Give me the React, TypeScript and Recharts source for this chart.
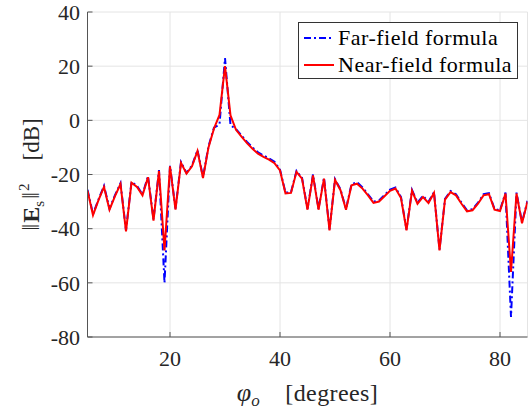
import React from 'react'
import {
  LineChart,
  Line,
  XAxis,
  YAxis,
  CartesianGrid,
  Legend,
} from 'recharts'

// Observation angle (degrees)
const phiDeg = [
  5, 6, 7, 8, 9, 10, 11, 12, 13, 14, 15, 16, 17, 18, 19, 20, 21, 22, 23, 24,
  25, 26, 27, 28, 29, 30, 31, 32, 33, 34, 35, 36, 37, 38, 39, 40, 41, 42, 43, 44,
  45, 46, 47, 48, 49, 50, 51, 52, 53, 54, 55, 56, 57, 58, 59, 60, 61, 62, 63, 64,
  65, 66, 67, 68, 69, 70, 71, 72, 73, 74, 75, 76, 77, 78, 79, 80, 81, 82, 83, 84,
  85,
]

// Near-field formula, |Es|^2 in dB
const nearField = [
  -26, -35, -29.5, -24.6, -33, -28, -23.5, -41, -23, -24.6, -27.7, -21, -37, -18.7, -48, -17, -33, -15.7, -19.7, -17,
  -11.3, -21.3, -10, -3, 2, 20, 1.8, -3.5, -6, -8.4, -10.5, -12.3, -13.5, -14.5, -15.8, -18.5, -27, -26.8, -19, -21.5,
  -33, -20.3, -33, -21.5, -40.6, -22, -25.8, -33, -24, -23.4, -25.2, -27.7, -30.5, -30, -28, -26, -25.2, -28.7, -40.6, -26,
  -30.8, -28.3, -30.5, -26.8, -48, -29.3, -26.5, -27.7, -30.8, -33.6, -33.2, -30.8, -27.7, -27.3, -33, -33.5, -27, -56, -27, -38,
  -30,
]

// Far-field formula, |Es|^2 in dB
const farField = [
  -25.6, -34.6, -29.2, -24.2, -32.6, -27.6, -23.2, -40.6, -22.7, -24.2, -27.3, -20.6, -36.6, -18.4, -60, -16.8, -32.6, -15.4, -19.4, -16.7,
  -11, -21, -9.6, -2.7, -1.5, 23, -1.8, -3.2, -5.6, -8, -10, -11.8, -13, -14, -15.3, -18.2, -26.7, -26.5, -18.7, -21.2,
  -32.7, -20, -32.7, -21.2, -40.3, -21.7, -25.5, -32.7, -23.6, -22.8, -24.8, -27.3, -30, -29.6, -27.6, -25.6, -24.8, -28.3, -40.3, -25.7,
  -30.4, -27.9, -30.1, -26.5, -47.7, -29, -26.1, -27.3, -30.4, -33.2, -32.8, -30.4, -27.3, -26.9, -32.7, -33.2, -26.7, -72.6, -26.7, -37.7,
  -29.7,
]

const xTicks = [20, 40, 60, 80]
const yTicks = [-80, -60, -40, -20, 0, 20, 40]

const seriesInfo = [
  { key: 'far', name: 'Far-field formula', color: '#0000ff', dash: '7 3 2 3' },
  { key: 'near', name: 'Near-field formula', color: '#ff0000', dash: undefined },
]

const data = phiDeg.map((phi, i) => ({ phi, far: farField[i], near: nearField[i] }))

const FONT = '"Liberation Serif", "DejaVu Serif", serif'
const TEXT = '#262626'
const AXIS = '#555555'
const GRID = '#e4e4e4'

const textStyle = { fontFamily: FONT }

function XTick(props: any) {
  const { x, y, payload } = props
  return (
    <text x={x} y={y} dy="0.71em" textAnchor="middle" fontFamily={FONT} style={textStyle} fontSize={22} fill={TEXT}>
      {payload.value}
    </text>
  )
}

function YTick(props: any) {
  const { x, y, payload } = props
  return (
    <text x={x} y={y} dy="0.35em" textAnchor="end" fontFamily={FONT} style={textStyle} fontSize={22} fill={TEXT}>
      {payload.value}
    </text>
  )
}

function XLabel(props: any) {
  const vb = props.viewBox || {}
  const cx = vb.x + vb.width / 2
  const y = vb.y + 64
  return (
    <text x={cx} y={y} textAnchor="middle" style={textStyle} fontSize={24} fill={TEXT}>
      <tspan fontStyle="italic" fontSize={26}>φ</tspan>
      <tspan fontStyle="italic" fontSize={17} dy={5}>o</tspan>
      <tspan dy={-5} letterSpacing={0.4}>{'\u00a0\u00a0\u00a0\u00a0[degrees]'}</tspan>
    </text>
  )
}

function YLabel(props: any) {
  const vb = props.viewBox || {}
  const cx = 39
  const cy = vb.y + vb.height / 2
  return (
    <text
      x={cx}
      y={cy}
      textAnchor="middle"
      style={textStyle}
      fontSize={23}
      fill={TEXT}
      transform={`rotate(-90 ${cx} ${cy})`}
    >
      <tspan fontSize={25}>‖</tspan>
      <tspan fontWeight="bold" fontSize={24} dx={1}>E</tspan>
      <tspan fontSize={15} dy={5}>s</tspan>
      <tspan fontSize={25} dy={-5} dx={2}>‖</tspan>
      <tspan fontSize={15} dy={-10} dx={1}>2</tspan>
      <tspan dy={10}>{'\u00a0\u00a0\u00a0\u00a0[dB]'}</tspan>
    </text>
  )
}

function LegendBox() {
  return (
    <div
      style={{
        border: '1px solid #333',
        background: '#fff',
        width: 220,
        height: 57,
        boxSizing: 'border-box',
        padding: '1px 0 0 4px',
        fontFamily: FONT,
        fontSize: 22,
        letterSpacing: 0.5,
        color: '#000',
      }}
    >
      {seriesInfo.map((s) => (
        <div key={s.key} style={{ display: 'flex', alignItems: 'center', height: 27 }}>
          <svg width={32} height={10} style={{ marginRight: 3 }}>
            <line
              x1={1}
              y1={5}
              x2={31}
              y2={5}
              stroke={s.color}
              strokeWidth={2}
              strokeDasharray={s.dash}
            />
          </svg>
          <span style={{ whiteSpace: 'nowrap' }}>{s.name}</span>
        </div>
      ))}
    </div>
  )
}

export default function App() {
  return (
    <div style={{ position: 'absolute', left: 0, top: 0, background: '#fff' }}>
      <LineChart
        width={529}
        height={411}
        data={data}
        margin={{ top: 12, right: 1.5, bottom: 0, left: 0 }}
      >
        <CartesianGrid stroke={GRID} strokeWidth={1} />
        <XAxis
          dataKey="phi"
          type="number"
          domain={[5, 85]}
          ticks={xTicks}
          allowDataOverflow
          height={74}
          tickSize={-5}
          tickMargin={18}
          tickLine={{ stroke: AXIS }}
          axisLine={{ stroke: AXIS }}
          tick={XTick}
          label={XLabel}
        />
        <XAxis
          xAxisId="top"
          orientation="top"
          dataKey="phi"
          type="number"
          domain={[5, 85]}
          ticks={xTicks}
          height={0}
          tickSize={-5}
          tick={false}
          tickLine={{ stroke: AXIS }}
          axisLine={{ stroke: AXIS }}
        />
        <YAxis
          type="number"
          domain={[-80, 40]}
          ticks={yTicks}
          allowDataOverflow
          width={87.5}
          tickSize={-5}
          tickMargin={12.5}
          tickLine={{ stroke: AXIS }}
          axisLine={{ stroke: AXIS }}
          tick={YTick}
          label={YLabel}
        />
        <YAxis
          yAxisId="right"
          orientation="right"
          type="number"
          domain={[-80, 40]}
          ticks={yTicks}
          width={0}
          tickSize={-5}
          tick={false}
          tickLine={{ stroke: AXIS }}
          axisLine={{ stroke: AXIS }}
        />
        <Legend
          layout="vertical"
          align="center"
          verticalAlign="middle"
          content={() => <LegendBox />}
          wrapperStyle={{ top: 22, left: 298, width: 'auto' }}
        />
        {seriesInfo.map((s) => (
          <Line
            key={s.key}
            dataKey={s.key}
            name={s.name}
            stroke={s.color}
            strokeWidth={2}
            strokeDasharray={s.dash}
            dot={false}
            isAnimationActive={false}
          />
        ))}
      </LineChart>
    </div>
  )
}
